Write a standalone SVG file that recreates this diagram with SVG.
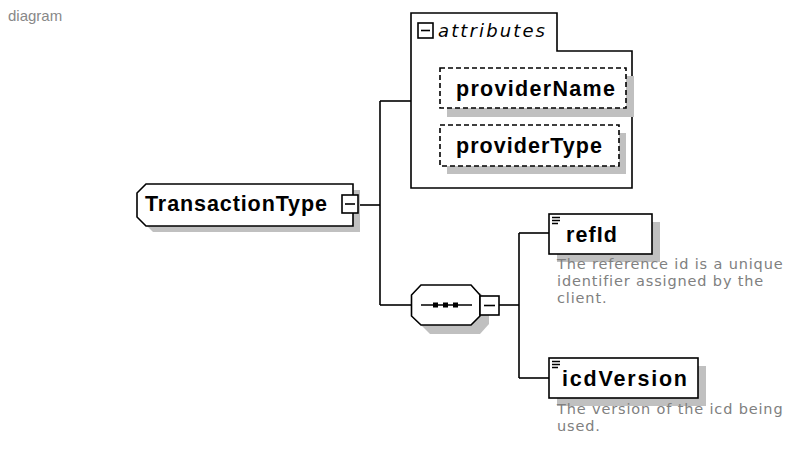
<svg xmlns="http://www.w3.org/2000/svg" width="787" height="453" viewBox="0 0 787 453">
  <style>
    .edge { fill: none; stroke: #000; stroke-width: 1.6; }
    .box { fill: #fff; stroke: #000; stroke-width: 1.6; }
    .dash { fill: #fff; stroke: #000; stroke-width: 1.6; stroke-dasharray: 5 3; }
    .shadow { fill: #c0c0c0; stroke: none; }
    .label { font-family: "Liberation Sans", Arial, sans-serif; font-weight: bold; font-size: 21.5px; fill: #000; }
    .doc { font-family: "DejaVu Sans", Verdana, sans-serif; font-size: 14.5px; letter-spacing: 0.85px; fill: #808080; }
    .title { font-family: "Liberation Sans", Arial, sans-serif; font-size: 15px; fill: #888; }
    .italic { font-family: "DejaVu Sans", Verdana, sans-serif; font-style: italic; font-size: 18px; fill: #000; }
  </style>

  <text class="title" x="8" y="21">diagram</text>

  <!-- connectors -->
  <g id="connectors">
    <path class="edge" d="M358,205 H380"/>
    <path class="edge" d="M380,101 V305"/>
    <path class="edge" d="M380,101 H411"/>
    <path class="edge" d="M380,305 H411"/>
    <path class="edge" d="M499,305 H519"/>
    <path class="edge" d="M519,233 V378"/>
    <path class="edge" d="M519,233 H549"/>
    <path class="edge" d="M519,378 H549"/>
  </g>

  <!-- complex type -->
  <g id="TransactionType">
    <polygon class="shadow" points="151,190 360,190 360,232 153,232 143,222 143,199"/>
    <polygon class="box" points="146,184 353,184 353,226 146,226 137,217 137,193"/>
    <text class="label" x="145" y="211" textLength="182" lengthAdjust="spacing">TransactionType</text>
    <rect class="box" x="342" y="195" width="16" height="18"/>
    <line class="edge" x1="345" y1="204" x2="355" y2="204"/>
  </g>

  <!-- attribute group -->
  <g id="attributes">
    <path class="box" d="M411,188 V13 H557 V51 H632 V188 Z"/>
    <rect class="box" x="418" y="23" width="15" height="15"/>
    <line class="edge" x1="421" y1="30.5" x2="430" y2="30.5"/>
    <text class="italic" x="438" y="37" textLength="107" lengthAdjust="spacing">attributes</text>
  </g>

  <g id="providerName">
    <rect class="shadow" x="447" y="76" width="187" height="41"/>
    <rect class="dash" x="440" y="68" width="186" height="40"/>
    <text class="label" x="456" y="96" textLength="159" lengthAdjust="spacing">providerName</text>
  </g>

  <g id="providerType">
    <rect class="shadow" x="447" y="133" width="179" height="41"/>
    <rect class="dash" x="440" y="125" width="179" height="41"/>
    <text class="label" x="456" y="153" textLength="146" lengthAdjust="spacing">providerType</text>
  </g>

  <!-- sequence compositor -->
  <g id="sequence">
    <polygon class="shadow" points="429,293 480,293 489,302 489,324 480,334 430,334 420,324 420,303"/>
    <polygon class="box" points="421,285 471,285 480,295 480,316 471,325 421,325 411.5,316 411.5,295"/>
    <line class="edge" x1="421" y1="305" x2="472" y2="305"/>
    <rect x="433" y="302.5" width="5" height="5" fill="#000"/>
    <rect x="443" y="302.5" width="5" height="5" fill="#000"/>
    <rect x="453" y="302.5" width="5" height="5" fill="#000"/>
    <rect class="box" x="480" y="296" width="19" height="19"/>
    <line class="edge" x1="484" y1="305.5" x2="495" y2="305.5"/>
  </g>

  <!-- elements -->
  <g id="refId">
    <rect class="shadow" x="557" y="222" width="103" height="40"/>
    <rect class="box" x="549" y="214" width="103" height="40"/>
    <path class="edge" stroke-width="1.2" d="M552,217.5 H560 M552,220.5 H560 M552,223.5 H558"/>
    <text class="label" x="566" y="242" textLength="51" lengthAdjust="spacing">refId</text>
    <text class="doc" x="557" y="269">The reference id is a unique</text>
    <text class="doc" x="557" y="286">identifier assigned by the</text>
    <text class="doc" x="557" y="303">client.</text>
  </g>

  <g id="icdVersion">
    <rect class="shadow" x="557" y="366" width="149" height="40"/>
    <rect class="box" x="549" y="358" width="149" height="40"/>
    <path class="edge" stroke-width="1.2" d="M552,361.5 H560 M552,364.5 H560 M552,367.5 H558"/>
    <text class="label" x="562" y="386" textLength="125" lengthAdjust="spacing">icdVersion</text>
    <text class="doc" x="557" y="414">The version of the icd being</text>
    <text class="doc" x="557" y="431">used.</text>
  </g>
</svg>
